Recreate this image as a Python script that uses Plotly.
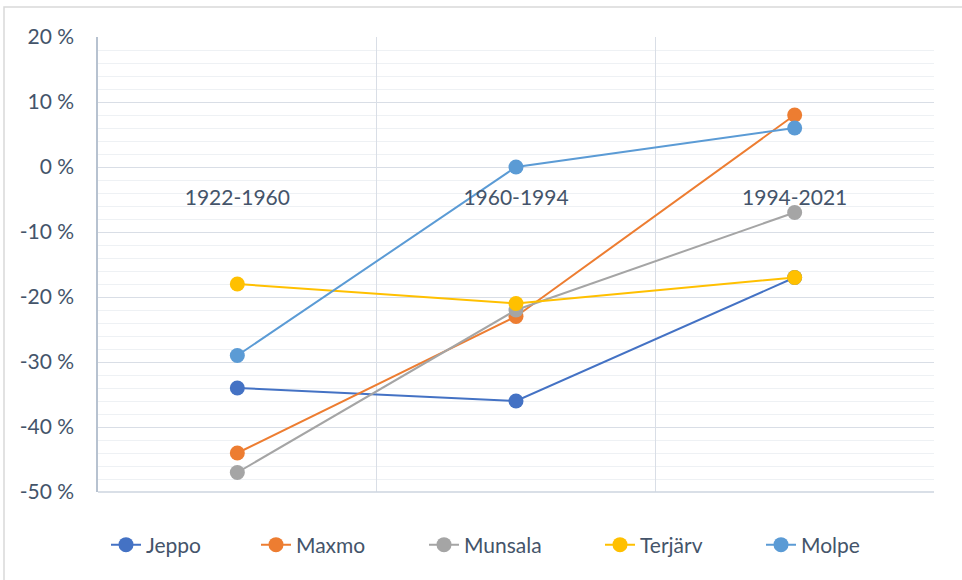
import plotly.graph_objects as go

periods = ["1922-1960", "1960-1994", "1994-2021"]
jeppo = [-34, -36, -17]
maxmo = [-44, -23, 8]
munsala = [-47, -22, -7]
terjarv = [-18, -21, -17]
molpe = [-29, 0, 6]

series = [
    ("Jeppo", jeppo, "#4472C4"),
    ("Maxmo", maxmo, "#ED7D31"),
    ("Munsala", munsala, "#A5A5A5"),
    ("Terjärv", terjarv, "#FFC000"),
    ("Molpe", molpe, "#5B9BD5"),
]
legend_marker_px = [128, 278, 446, 622, 783]

y_ticks = [-50, -40, -30, -20, -10, 0, 10, 20]
y_ticktext = [f"{v} %" for v in y_ticks]

TXT = "#44546A"
FONT = "Lato"
FS = 21

W, H = 962, 580
L, R, T, B = 98, 28, 37, 88
pw, ph = W - L - R, H - T - B
ymin, ymax = -50, 20

fig = go.Figure()
legends = {}
for i, (name, vals, col) in enumerate(series):
    lk = "legend" if i == 0 else f"legend{i + 1}"
    fig.add_trace(go.Scatter(
        x=periods, y=vals, name=name, mode="lines+markers",
        line=dict(color=col, width=2),
        marker=dict(color=col, size=15),
        legend=lk,
    ))
    legends[lk] = dict(
        orientation="h", xref="container", yref="container",
        x=(legend_marker_px[i] - 22) / W, xanchor="left",
        y=1 - 545 / H, yanchor="middle",
        font=dict(family=FONT, size=FS, color=TXT),
        bgcolor="rgba(0,0,0,0)",
    )

fig.update_layout(
    width=W, height=H,
    margin=dict(l=L, r=R, t=T, b=B, autoexpand=False),
    paper_bgcolor="white", plot_bgcolor="white",
    font=dict(family=FONT, size=FS, color=TXT),
    showlegend=True,
    xaxis=dict(
        type="category", range=[-0.5, 2.5], tickson="boundaries",
        showgrid=True, gridcolor="#D9DEE6", gridwidth=1,
        showline=False, zeroline=False, ticks="",
        anchor="free", position=(0 - ymin) / (ymax - ymin),
        ticklabelstandoff=16, automargin=False,
        tickfont=dict(size=FS, color=TXT),
    ),
    yaxis=dict(
        range=[ymin, ymax], tickvals=y_ticks, ticktext=y_ticktext,
        showgrid=True, gridcolor="#D9DEE6", gridwidth=1,
        minor=dict(dtick=2, tick0=0, showgrid=True, gridcolor="#EEF1F4"),
        showline=True, linecolor="#B7C2D0", linewidth=1.5,
        zeroline=False, ticks="", ticklabelstandoff=18, automargin=False,
        tickfont=dict(size=FS, color=TXT),
    ),
    shapes=[
        dict(type="line", xref="paper", yref="paper", x0=0, x1=1, y0=0, y1=0,
             line=dict(color="#CDD5DF", width=1.5), layer="above"),
        dict(type="rect", xref="paper", yref="paper",
             x0=(4 - L) / pw, x1=(W + 10 - L) / pw,
             y0=(H - B - 7) / ph, y1=(H - B - (H + 10)) / ph,
             line=dict(color="#D9D9D9", width=1.5), fillcolor="rgba(0,0,0,0)",
             layer="below"),
    ],
    **legends,
)

fig.write_html("out.html", config={"displayModeBar": False},
               post_script="document.body.style.margin='0';")
